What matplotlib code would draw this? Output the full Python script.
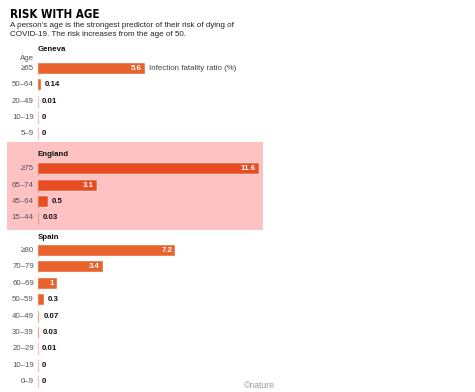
import matplotlib.pyplot as plt
from matplotlib.patches import Rectangle

# Infection fatality ratio (%) by age group
geneva_ages = ['≥65', '50–64', '20–49', '10–19', '5–9']
geneva_ifr = [5.6, 0.14, 0.01, 0, 0]

england_ages = ['≥75', '65–74', '45–64', '15–44']
england_ifr = [11.6, 3.1, 0.5, 0.03]

spain_ages = ['≥80', '70–79', '60–69', '50–59', '40–49', '30–39', '20–29', '10–19', '0–9']
spain_ifr = [7.2, 3.4, 1, 0.3, 0.07, 0.03, 0.01, 0, 0]

W, H = 475, 392
PX = 1 / 19.05          # one pixel in data units along x
X0 = 38                 # pixel position of the zero line
STEP = 16.4             # row spacing in pixels
BAR_H = 11

fig = plt.figure(figsize=(W / 100, H / 100), dpi=100)
ax = fig.add_axes([0, 0, 1, 1])
ax.set_xlim(-X0 * PX, (W - X0) * PX)
ax.set_ylim(H, 0)
ax.axis('off')

font = 'Liberation Sans'
small = 5.7

# title and subtitle
ax.text(-28 * PX, 14, 'RISK WITH AGE', fontsize=8.3, fontweight='heavy',
        family='DejaVu Sans', fontstretch='condensed', va='center', ha='left')
ax.text(-28 * PX, 25.7, "A person's age is the strongest predictor of their risk of dying of",
        fontsize=5.8, family=font, va='center', ha='left', color='#222222')
ax.text(-28 * PX, 34.5, 'COVID-19. The risk increases from the age of 50.',
        fontsize=5.8, family=font, va='center', ha='left', color='#222222')

# England highlight panel
ax.add_patch(Rectangle((-30.7 * PX, 141.7), 255.7 * PX, 88.3,
                       facecolor='#FFC2C2', edgecolor='none', zorder=0))


def draw_group(name, ages, values, y_head, y_first, color, stub):
    ax.text(0, y_head, name, fontsize=small, fontweight='bold', family=font,
            va='center', ha='left', color='#111111')
    ys = [y_first + i * STEP for i in range(len(values))]
    ax.barh(ys, values, height=BAR_H, left=0, color=color,
            edgecolor='white', linewidth=0.3, zorder=2)
    for y, a, v in zip(ys, ages, values):
        ax.plot([0.3 * PX, 0.3 * PX], [y - BAR_H / 2, y + BAR_H / 2],
                color=stub, lw=1.0, zorder=1)
        ax.text(-4 * PX, y, a, fontsize=small, family=font, va='center',
                ha='right', color='#555555')
        label = f'{v:g}'
        if v >= 1:
            ax.text(v - 3 * PX, y, label, fontsize=small, fontweight='bold',
                    family=font, va='center', ha='right', color='white', zorder=3)
        else:
            ax.text(v + 4 * PX, y, label, fontsize=small, fontweight='bold',
                    family=font, va='center', ha='left', color='#111111', zorder=3)
    return ys


g_ys = draw_group('Geneva', geneva_ages, geneva_ifr, 49.5, 68.3, '#E8622C', '#F5BFA8')
ax.text(-4 * PX, 58.5, 'Age', fontsize=small, family=font, va='center',
        ha='right', color='#555555')
ax.text(geneva_ifr[0] + 4 * PX, g_ys[0], 'Infection fatality ratio (%)',
        fontsize=small, family=font, va='center', ha='left', color='#444444')

draw_group('England', england_ages, england_ifr, 154, 168.6, '#E84C22', '#E8704C')
draw_group('Spain', spain_ages, spain_ifr, 237.3, 250.5, '#E8622C', '#F5BFA8')

ax.text((275 - X0) * PX, 385.5, '©nature', fontsize=6.2,
        family=font, va='center', ha='right', color='#9A9A9A')

fig.savefig('out.png', dpi=100)
